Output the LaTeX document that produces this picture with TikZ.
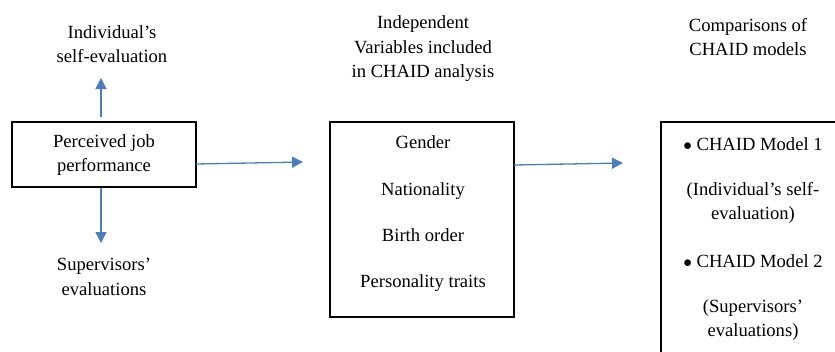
\documentclass[tikz,border=0pt]{standalone}
\usepackage{fontspec}
\setmainfont{LiberationSerif-Regular.ttf}
\usetikzlibrary{arrows.meta}
\definecolor{arrowblue}{HTML}{4A7EBB}
\begin{document}
\begin{tikzpicture}[x=1pt,y=-1pt,
  txt/.style={inner sep=0pt,align=center,font=\fontsize{18.6}{24.5}\selectfont},
  boxline/.style={draw=black,line width=1.4pt,fill=none},
  conn/.style={draw=arrowblue,line width=1.3pt,-{Triangle[length=11pt,width=11pt]}}]
\useasboundingbox (0,0) rectangle (835,351);
\clip (0,0) rectangle (835,351);
% Box 1
\node[boxline,minimum width=184pt,minimum height=65pt,inner sep=0pt] (b1) at (104,154.5) {};
\node[txt] (b1t) at (104,155) {Perceived job\\performance};
\node[txt] (self) at (112,44) {Individual’s\\self-evaluation};
\node[txt] (sup) at (104,277) {Supervisors’\\evaluations};
\coordinate (upEnd) at (101,78);
\coordinate (upStart) at (101,117);
\coordinate (dnEnd) at (101,243);
\draw[conn] (upStart) -- (upEnd);
\draw[conn] (b1.south -| dnEnd) -- (dnEnd);
% Box 2
\node[boxline,minimum width=184pt,minimum height=195pt,inner sep=0pt] (b2) at (422,219.5) {};
\node[txt] (ivt) at (423,49) {Independent\\Variables included\\in CHAID analysis};
\node[txt,anchor=base] (g) at (423,148) {Gender};
\node[txt,anchor=base] (n) at (423,195) {Nationality};
\node[txt,anchor=base] (bo) at (423,241) {Birth order};
\node[txt,anchor=base] (pt) at (423,287) {Personality traits};
\coordinate (a1s) at (196,164);
\coordinate (a1e) at (303,162);
\draw[conn] (a1s) -- (a1e);
% Box 3
\node[boxline,minimum width=190pt,minimum height=250pt,inner sep=0pt] (b3) at (756,247) {};
\node[txt] (cmp) at (748,37) {Comparisons of\\CHAID models};
\node[txt,anchor=base] (m1) at (753,150) {$\bullet$ CHAID Model 1};
\node[txt] (m1d) at (753,203) {(Individual’s self-\\evaluation)};
\node[txt,anchor=base] (m2) at (753,267) {$\bullet$ CHAID Model 2};
\node[txt] (m2d) at (753,320) {(Supervisors’\\evaluations)};
\coordinate (a2s) at (514,165);
\coordinate (a2e) at (623,163);
\draw[conn] (a2s) -- (a2e);
\end{tikzpicture}
\end{document}
